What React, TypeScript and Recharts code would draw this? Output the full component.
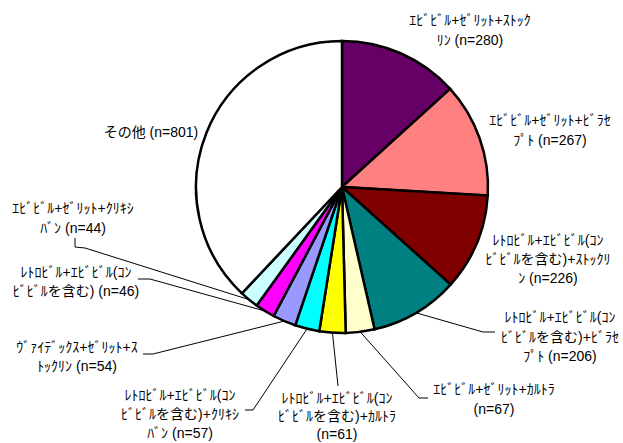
import { Pie, PieChart, Cell } from 'recharts';

const categories = [
  'ｴﾋﾞﾋﾞﾙ+ｾﾞﾘｯﾄ+ｽﾄｯｸﾘﾝ',
  'ｴﾋﾞﾋﾞﾙ+ｾﾞﾘｯﾄ+ﾋﾞﾗｾﾌﾟﾄ',
  'ﾚﾄﾛﾋﾞﾙ+ｴﾋﾞﾋﾞﾙ(ｺﾝﾋﾞﾋﾞﾙを含む)+ｽﾄｯｸﾘﾝ',
  'ﾚﾄﾛﾋﾞﾙ+ｴﾋﾞﾋﾞﾙ(ｺﾝﾋﾞﾋﾞﾙを含む)+ﾋﾞﾗｾﾌﾟﾄ',
  'ｴﾋﾞﾋﾞﾙ+ｾﾞﾘｯﾄ+ｶﾙﾄﾗ',
  'ﾚﾄﾛﾋﾞﾙ+ｴﾋﾞﾋﾞﾙ(ｺﾝﾋﾞﾋﾞﾙを含む)+ｶﾙﾄﾗ',
  'ﾚﾄﾛﾋﾞﾙ+ｴﾋﾞﾋﾞﾙ(ｺﾝﾋﾞﾋﾞﾙを含む)+ｸﾘｷｼﾊﾞﾝ',
  'ｳﾞｧｲﾃﾞｯｸｽ+ｾﾞﾘｯﾄ+ｽﾄｯｸﾘﾝ',
  'ﾚﾄﾛﾋﾞﾙ+ｴﾋﾞﾋﾞﾙ(ｺﾝﾋﾞﾋﾞﾙを含む)',
  'ｴﾋﾞﾋﾞﾙ+ｾﾞﾘｯﾄ+ｸﾘｷｼﾊﾞﾝ',
  'その他',
];
const counts = [280, 267, 226, 206, 67, 61, 57, 54, 46, 44, 801];
const colors = [
  '#660066', '#FF8080', '#800000', '#008080', '#FFFFCC', '#FFFF00',
  '#00FFFF', '#9999FF', '#FF00FF', '#CCFFFF', '#FFFFFF',
];

// label text wrapped as in the original
const labelLines = [
  ['ｴﾋﾞﾋﾞﾙ+ｾﾞﾘｯﾄ+ｽﾄｯｸ', 'ﾘﾝ (n=280)'],
  ['ｴﾋﾞﾋﾞﾙ+ｾﾞﾘｯﾄ+ﾋﾞﾗｾ', 'ﾌﾟﾄ (n=267)'],
  ['ﾚﾄﾛﾋﾞﾙ+ｴﾋﾞﾋﾞﾙ(ｺﾝ', 'ﾋﾞﾋﾞﾙを含む)+ｽﾄｯｸﾘ', 'ﾝ (n=226)'],
  ['ﾚﾄﾛﾋﾞﾙ+ｴﾋﾞﾋﾞﾙ(ｺﾝ', 'ﾋﾞﾋﾞﾙを含む)+ﾋﾞﾗｾ', 'ﾌﾟﾄ (n=206)'],
  ['ｴﾋﾞﾋﾞﾙ+ｾﾞﾘｯﾄ+ｶﾙﾄﾗ', '(n=67)'],
  ['ﾚﾄﾛﾋﾞﾙ+ｴﾋﾞﾋﾞﾙ(ｺﾝ', 'ﾋﾞﾋﾞﾙを含む)+ｶﾙﾄﾗ', '(n=61)'],
  ['ﾚﾄﾛﾋﾞﾙ+ｴﾋﾞﾋﾞﾙ(ｺﾝ', 'ﾋﾞﾋﾞﾙを含む)+ｸﾘｷｼ', 'ﾊﾞﾝ (n=57)'],
  ['ｳﾞｧｲﾃﾞｯｸｽ+ｾﾞﾘｯﾄ+ｽ', 'ﾄｯｸﾘﾝ (n=54)'],
  ['ﾚﾄﾛﾋﾞﾙ+ｴﾋﾞﾋﾞﾙ(ｺﾝ', 'ﾋﾞﾋﾞﾙを含む) (n=46)'],
  ['ｴﾋﾞﾋﾞﾙ+ｾﾞﾘｯﾄ+ｸﾘｷｼ', 'ﾊﾞﾝ (n=44)'],
  ['その他 (n=801)'],
];

const data = categories.map((name, i) => ({ name, value: counts[i] }));

// manual label placement (text centre x, first line centre y, line gap) and leader bends
const labelLayout: { x: number; y: number; gap: number; leader?: [number, number][] }[] = [
  { x: 470, y: 20, gap: 19.5 },
  { x: 550, y: 120, gap: 19.5 },
  { x: 548, y: 240, gap: 19 },
  { x: 560, y: 317, gap: 19.5, leader: [[483, 332], [495, 332]] },
  { x: 494, y: 389, gap: 19.5, leader: [[419, 398], [428, 398]] },
  { x: 337, y: 398, gap: 18, leader: [[338, 386]] },
  { x: 180, y: 395, gap: 19, leader: [[253, 410], [245, 410]] },
  { x: 77, y: 347, gap: 18.5, leader: [[153, 354], [143, 354]] },
  { x: 76, y: 272, gap: 19, leader: [[150, 279], [138, 279]] },
  { x: 73, y: 208, gap: 20, leader: [[85, 248], [75, 247], [75, 238]] },
  { x: 151, y: 132, gap: 19 },
];

const RAD = Math.PI / 180;
const CX = 342;
const CY = 187;
const R = 146;

function renderLabel(props: any) {
  const { index, midAngle } = props;
  const cx = props.cx ?? CX;
  const cy = props.cy ?? CY;
  const r = props.outerRadius ?? R;
  const lay = labelLayout[index];
  const lines = labelLines[index];
  const sx = cx + r * Math.cos(-midAngle * RAD);
  const sy = cy + r * Math.sin(-midAngle * RAD);
  return (
    <g key={'lbl' + index}>
      {lay.leader && (
        <polyline
          points={[[sx, sy], ...lay.leader].map((p) => p.join(',')).join(' ')}
          fill="none"
          stroke="#000"
          strokeWidth={1}
        />
      )}
      <text
        x={lay.x}
        y={lay.y + 5}
        textAnchor="middle"
        fill="#000"
        fontSize={14}
        fontFamily="'Liberation Sans', 'Noto Sans CJK JP', sans-serif"
      >
        {lines.map((l, i) => (
          <tspan key={i} x={lay.x} dy={i === 0 ? 0 : lay.gap}>
            {l}
          </tspan>
        ))}
      </text>
    </g>
  );
}

export default function App() {
  return (
    <div style={{ position: 'absolute', left: 0, top: 0, background: '#fff' }}>
      <PieChart width={623} height={443} margin={{ top: 0, right: 0, bottom: 0, left: 0 }}>
        <Pie
          data={data}
          dataKey="value"
          nameKey="name"
          cx={CX}
          cy={CY}
          outerRadius={R}
          startAngle={90}
          endAngle={-270}
          stroke="#000"
          strokeWidth={2.5}
          label={renderLabel}
          labelLine={false}
          isAnimationActive={false}
        >
          {data.map((d, i) => (
            <Cell key={d.name} fill={colors[i]} />
          ))}
        </Pie>
      </PieChart>
    </div>
  );
}
